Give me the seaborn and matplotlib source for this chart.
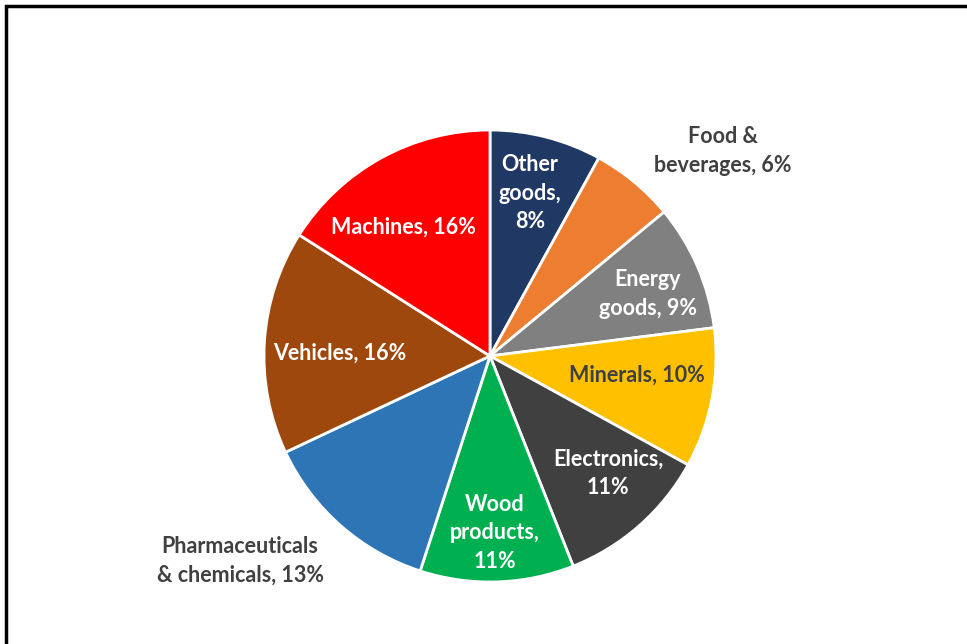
import matplotlib
matplotlib.use("Agg")
import matplotlib.pyplot as plt
import seaborn as sns
from matplotlib.patches import Rectangle

sns.set_theme(style="white")
plt.rcParams["font.family"] = ["Lato", "DejaVu Sans"]

# Export shares by product group, clockwise from 12 o'clock
categories = ["Other goods", "Food & beverages", "Energy goods", "Minerals",
              "Electronics", "Wood products", "Pharmaceuticals & chemicals",
              "Vehicles", "Machines"]
shares = [8, 6, 9, 10, 11, 11, 13, 16, 16]
label_texts = ["Other\ngoods,\n8%", "Food &\nbeverages, 6%", "Energy\ngoods, 9%",
               "Minerals, 10%", "Electronics,\n11%", "Wood\nproducts,\n11%",
               "Pharmaceuticals\n& chemicals, 13%", "Vehicles, 16%", "Machines, 16%"]
colors = ["#203864", "#ED7D31", "#808080", "#FFC000", "#404040",
          "#00B050", "#2E75B6", "#9E480E", "#FF0000"]
text_colors = ["white", "#404040", "white", "#404040", "white",
               "white", "#404040", "white", "white"]
# label centres in pie-radius units
label_pos = [(0.177, 0.721), (1.031, 0.907), (0.699, 0.274), (0.650, -0.084),
             (0.522, -0.518), (0.022, -0.783), (-1.106, -0.907), (-0.664, 0.013),
             (-0.381, 0.571)]

W, H = 967, 644
fig = plt.figure(figsize=(W / 100, H / 100), dpi=100)
fig.patch.set_facecolor("white")

# outer frame (open at right/bottom edges)
fig.patches.append(Rectangle((5.5 / W, -0.05), 1.2, 1.05 - 5.5 / H,
                             transform=fig.transFigure, fill=False,
                             edgecolor="black", linewidth=2.5))

cx, cy, R = 490, 356, 226
ax = fig.add_axes([(cx - R) / W, (H - cy - R) / H, 2 * R / W, 2 * R / H])
ax.pie(shares, colors=colors, startangle=90, counterclock=False, radius=1,
       wedgeprops=dict(edgecolor="white", linewidth=2))
ax.set_xlim(-1, 1)
ax.set_ylim(-1, 1)
ax.set_aspect("equal")
ax.axis("off")

for txt, (x, y), tc in zip(label_texts, label_pos, text_colors):
    ax.text(x, y, txt, ha="center", va="center", color=tc, fontsize=15.5,
            fontweight="bold", linespacing=1.45, clip_on=False)

fig.savefig("out.png", dpi=100, facecolor="white")
